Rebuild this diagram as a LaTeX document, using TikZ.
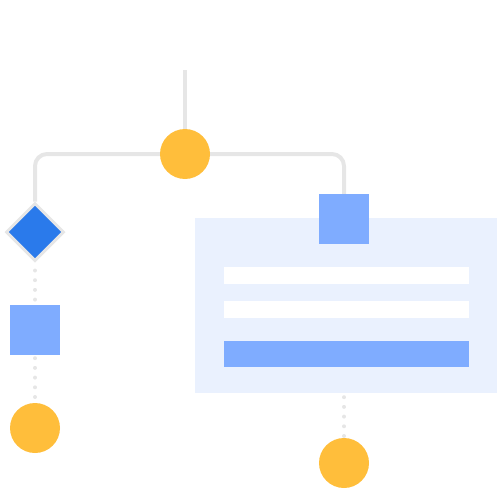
\documentclass[tikz,border=0pt]{standalone}
\usepackage{tikz}
\usetikzlibrary{positioning,shapes.geometric}
\definecolor{cDot}{HTML}{FFBE3B}
\definecolor{cGate}{HTML}{2A7AEB}
\definecolor{cBox}{HTML}{7FACFF}
\definecolor{cPanel}{HTML}{EAF1FE}
\definecolor{cWire}{HTML}{E6E6E6}
\tikzset{
  dot/.style={circle, fill=cDot, minimum size=50pt, inner sep=0pt},
  gate/.style={diamond, fill=cGate, draw=cWire, line width=3pt,
               minimum width=58pt, minimum height=58pt, inner sep=0pt},
  sq/.style={rectangle, fill=cBox, minimum size=50pt, inner sep=0pt},
  panelb/.style={rectangle, fill=cPanel, minimum width=302pt, minimum height=175pt, inner sep=0pt},
  bar/.style={rectangle, fill=white, minimum width=245pt, minimum height=17pt, inner sep=0pt},
  wire/.style={cWire, line width=4pt, rounded corners=12pt},
  dotted wire/.style={cWire, line width=4pt, line cap=round, dash pattern=on 0pt off 9.7pt},
}

\begin{document}
\begin{tikzpicture}[x=1pt, y=-1pt]
    \useasboundingbox (0,0) rectangle (500,500);

    % panel and its bars
    \node[panelb] (panel) at (346,305.5) {};
    \node[bar] (bar1) at (346.5,275.5) {};
    \node[bar] (bar2) at (346.5,309.5) {};
    \node[bar, fill=cBox, minimum height=26pt] (bar3) at (346.5,354) {};

    % nodes
    \coordinate (top) at (185,70);
    \node[dot] (hub) at (185,154) {};
    \node[gate] (gate) at (35,232) {};
    \node[sq] (lsq) at (35,330) {};
    \node[dot] (lend) at (35,428) {};
    \node[sq] (rsq) at (344,219) {};
    \node[dot] (rend) at (344,463) {};

    % connectors
    \draw[wire] (top) -- (hub.north);
    \draw[wire] (hub.west) -| (gate.north);
    \draw[wire] (hub.east) -| (rsq.north);
    \draw[dotted wire] ([yshift=-8pt]gate.south) -- (lsq.north);
    \draw[dotted wire] ([yshift=-3pt]lsq.south) -- (lend.north);
    \draw[dotted wire] ([yshift=-4pt]rend |- panel.south) -- (rend.north);
  \end{tikzpicture}
\end{document}
